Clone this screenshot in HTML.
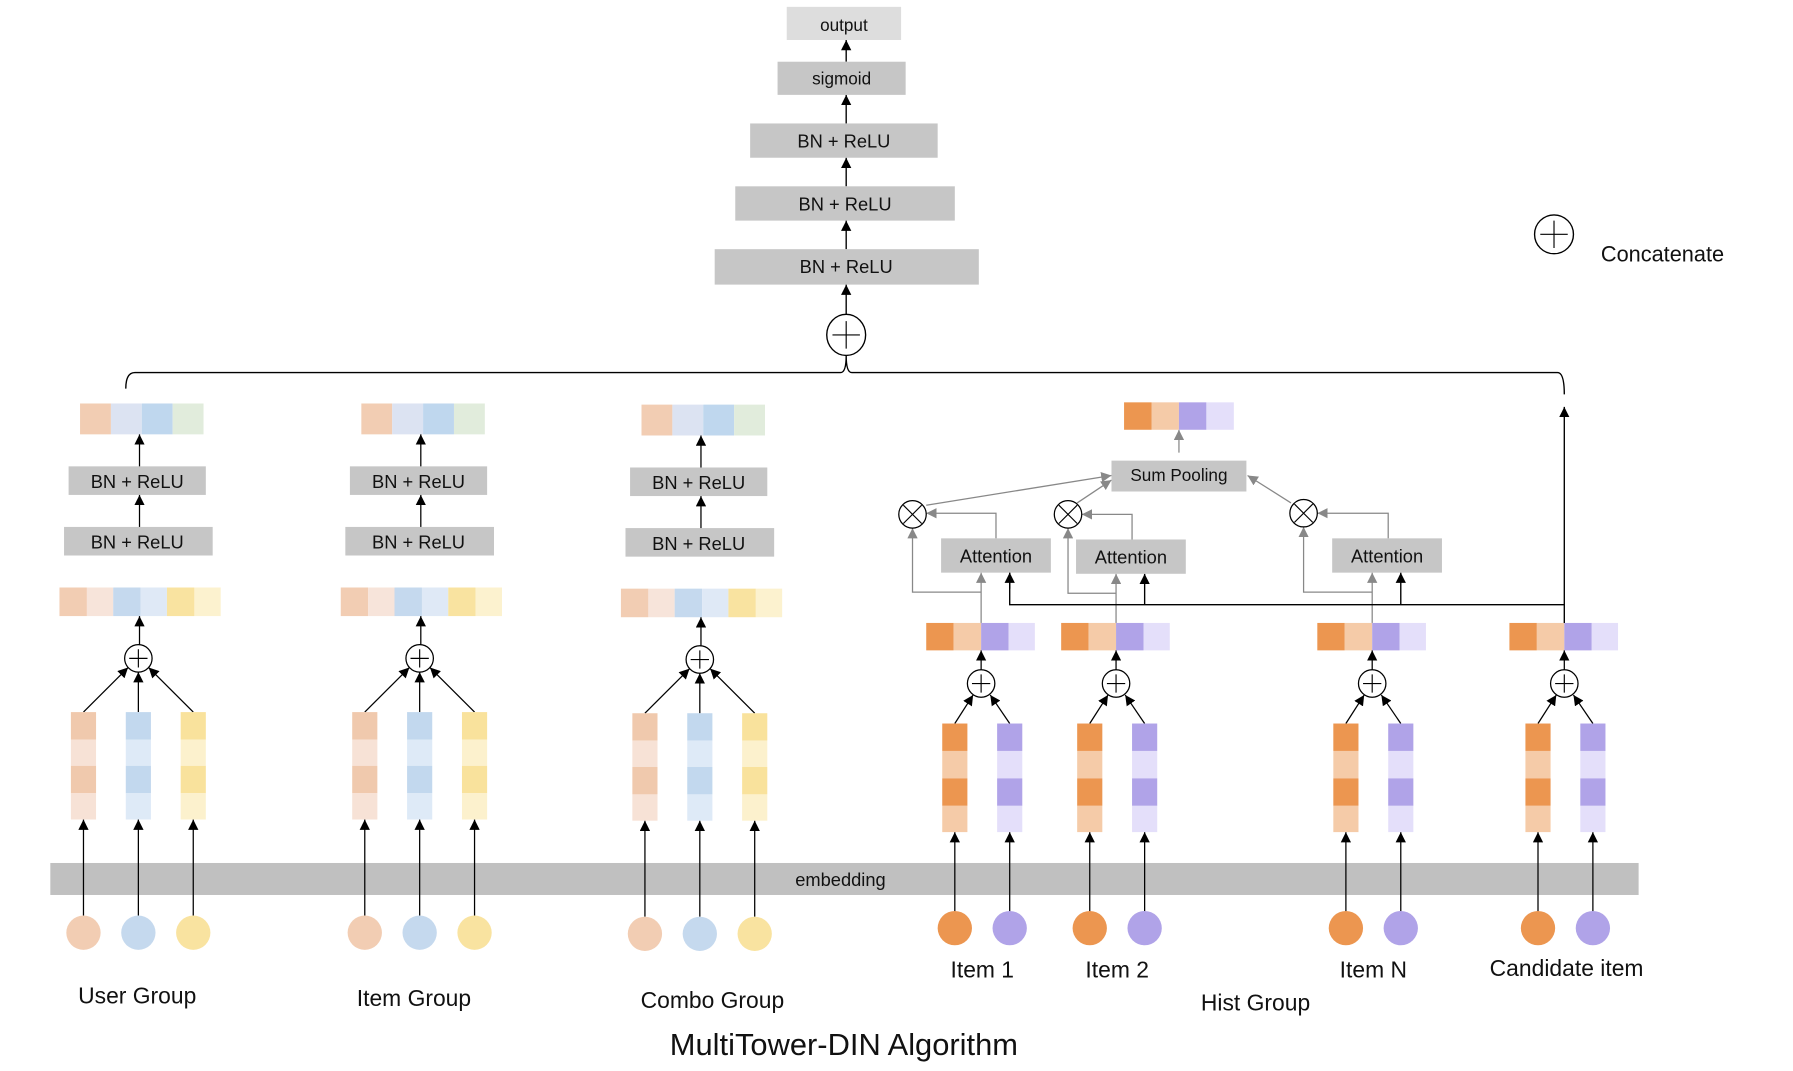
<!DOCTYPE html>
<html><head><meta charset="utf-8"><style>html,body{margin:0;padding:0;background:#fff}svg{display:block}text{font-family:"Liberation Sans",sans-serif;fill:#111}</style></head><body>
<svg width="1793" height="1071" viewBox="0 0 1568 937" preserveAspectRatio="none" xmlns="http://www.w3.org/2000/svg">
<defs>
<marker id="a" viewBox="0 0 10 10" refX="10" refY="5" markerWidth="9" markerHeight="9" markerUnits="userSpaceOnUse" orient="auto"><path d="M0,0L10,5L0,10z" fill="#000"/></marker>
<marker id="g" viewBox="0 0 10 10" refX="10" refY="5" markerWidth="9" markerHeight="9" markerUnits="userSpaceOnUse" orient="auto"><path d="M0,0L10,5L0,10z" fill="#888"/></marker>
</defs>
<g stroke="#000" stroke-width="1.2" fill="none">
<line x1="740" y1="54" x2="740" y2="35" marker-end="url(#a)"/>
<line x1="740" y1="108" x2="740" y2="83" marker-end="url(#a)"/>
<line x1="740" y1="163" x2="740" y2="138" marker-end="url(#a)"/>
<line x1="740" y1="218" x2="740" y2="193" marker-end="url(#a)"/>
<line x1="740" y1="276" x2="740" y2="249" marker-end="url(#a)"/>
<path d="M110,340 Q110,326 118,326 L735,326 Q740,326 740,311 Q740,326 745,326 L1362,326 Q1368,326 1368,345"/>
</g>
<rect x="688" y="6" width="100" height="29" fill="#ddd"/><text x="738" y="27" font-size="15" text-anchor="middle">output</text>
<rect x="680" y="54" width="112" height="29" fill="#c6c6c6"/><text x="736" y="74" font-size="15" text-anchor="middle">sigmoid</text>
<rect x="656" y="108" width="164" height="30" fill="#c6c6c6"/><text x="738" y="129" font-size="16" text-anchor="middle">BN + ReLU</text>
<rect x="643" y="163" width="192" height="30" fill="#c6c6c6"/><text x="739" y="184" font-size="16" text-anchor="middle">BN + ReLU</text>
<rect x="625" y="218" width="231" height="31" fill="#c6c6c6"/><text x="740" y="239" font-size="16" text-anchor="middle">BN + ReLU</text>
<ellipse cx="740" cy="293" rx="17" ry="18" fill="#fff" stroke="#000" stroke-width="1.2"/><path d="M728,293H752M740,281V305" stroke="#000" stroke-width="1"/>
<ellipse cx="1359" cy="205" rx="17" ry="17" fill="#fff" stroke="#000" stroke-width="1.2"/><path d="M1347,205H1371M1359,193V217" stroke="#000" stroke-width="1"/>
<text x="1400" y="229" font-size="19">Concatenate</text>
<rect x="44" y="755" width="1389" height="28" fill="#c0c0c0"/><text x="735" y="775" font-size="16" text-anchor="middle">embedding</text>

<g id="tw">
<rect x="70" y="353" width="27" height="27" fill="#f2cdb3"/><rect x="97" y="353" width="27" height="27" fill="#dce3f2"/><rect x="124" y="353" width="27" height="27" fill="#bfd7ee"/><rect x="151" y="353" width="27" height="27" fill="#e1ecdc"/>
<rect x="60" y="408" width="120" height="25" fill="#c6c6c6"/><text x="120" y="427" font-size="16" text-anchor="middle">BN + ReLU</text>
<rect x="56" y="461" width="130" height="25" fill="#c6c6c6"/><text x="120" y="480" font-size="16" text-anchor="middle">BN + ReLU</text>
<rect x="52" y="514" width="24" height="25" fill="#f2cdb3"/><rect x="76" y="514" width="23" height="25" fill="#f7e4da"/><rect x="99" y="514" width="24" height="25" fill="#c5d9ee"/><rect x="123" y="514" width="23" height="25" fill="#dfe9f6"/><rect x="146" y="514" width="24" height="25" fill="#f9e3a0"/><rect x="170" y="514" width="23" height="25" fill="#fcf2cf"/>
<g stroke="#000" stroke-width="1.1">
<line x1="122" y1="408" x2="122" y2="380" marker-end="url(#a)"/>
<line x1="122" y1="461" x2="122" y2="433" marker-end="url(#a)"/>
<line x1="122" y1="564" x2="122" y2="539" marker-end="url(#a)"/>
<line x1="73" y1="623" x2="112" y2="584" marker-end="url(#a)"/>
<line x1="121" y1="623" x2="121" y2="588" marker-end="url(#a)"/>
<line x1="169" y1="623" x2="130" y2="584" marker-end="url(#a)"/>
<line x1="73" y1="801" x2="73" y2="717" marker-end="url(#a)"/>
<line x1="121" y1="801" x2="121" y2="717" marker-end="url(#a)"/>
<line x1="169" y1="801" x2="169" y2="717" marker-end="url(#a)"/>
</g>
<ellipse cx="121" cy="576" rx="12" ry="12" fill="#fff" stroke="#000" stroke-width="1.1"/><path d="M113,576H129M121,568V584" stroke="#000" stroke-width="1"/>
<rect x="62" y="623" width="22" height="24" fill="#f0c9ad"/><rect x="62" y="647" width="22" height="23" fill="#f7e2d6"/><rect x="62" y="670" width="22" height="24" fill="#f0c9ad"/><rect x="62" y="694" width="22" height="23" fill="#f7e2d6"/>
<rect x="110" y="623" width="22" height="24" fill="#c2d8ee"/><rect x="110" y="647" width="22" height="23" fill="#deeaf7"/><rect x="110" y="670" width="22" height="24" fill="#c2d8ee"/><rect x="110" y="694" width="22" height="23" fill="#deeaf7"/>
<rect x="158" y="623" width="22" height="24" fill="#f9e29c"/><rect x="158" y="647" width="22" height="23" fill="#fcf1cd"/><rect x="158" y="670" width="22" height="24" fill="#f9e29c"/><rect x="158" y="694" width="22" height="23" fill="#fcf1cd"/>
<circle cx="73" cy="816" r="15" fill="#f2cdb3"/><circle cx="121" cy="816" r="15" fill="#c5d9ee"/><circle cx="169" cy="816" r="15" fill="#f9e3a0"/>
</g>
<use href="#tw" x="246" y="0"/>
<use href="#tw" x="491" y="1"/>
<text x="120" y="878" font-size="20" text-anchor="middle">User Group</text>
<text x="362" y="880" font-size="20" text-anchor="middle">Item Group</text>
<text x="623" y="882" font-size="20" text-anchor="middle">Combo Group</text>

<g id="hi">
<rect x="810" y="545" width="24" height="24" fill="#ec9650"/><rect x="834" y="545" width="24" height="24" fill="#f5cba8"/><rect x="858" y="545" width="24" height="24" fill="#b0a3e8"/><rect x="882" y="545" width="23" height="24" fill="#e4dffa"/>
<g stroke="#000" stroke-width="1.1">
<line x1="858" y1="586" x2="858" y2="569" marker-end="url(#a)"/>
<line x1="835" y1="633" x2="851" y2="608" marker-end="url(#a)"/>
<line x1="883" y1="633" x2="866" y2="608" marker-end="url(#a)"/>
<line x1="835" y1="798" x2="835" y2="728" marker-end="url(#a)"/>
<line x1="883" y1="798" x2="883" y2="728" marker-end="url(#a)"/>
</g>
<ellipse cx="858" cy="598" rx="12" ry="12" fill="#fff" stroke="#000" stroke-width="1.1"/><path d="M850,598H866M858,590V606" stroke="#000" stroke-width="1"/>
<rect x="824" y="633" width="22" height="24" fill="#ec9650"/><rect x="824" y="657" width="22" height="24" fill="#f5cba8"/><rect x="824" y="681" width="22" height="24" fill="#ec9650"/><rect x="824" y="705" width="22" height="23" fill="#f5cba8"/>
<rect x="872" y="633" width="22" height="24" fill="#b0a3e8"/><rect x="872" y="657" width="22" height="24" fill="#e4dffa"/><rect x="872" y="681" width="22" height="24" fill="#b0a3e8"/><rect x="872" y="705" width="22" height="23" fill="#e4dffa"/>
<circle cx="835" cy="812" r="15" fill="#ec9650"/><circle cx="883" cy="812" r="15" fill="#b0a3e8"/>
</g>
<use href="#hi" x="118" y="0"/>
<use href="#hi" x="342" y="0"/>
<use href="#hi" x="510" y="0"/>
<text x="859" y="855" font-size="20" text-anchor="middle">Item 1</text>
<text x="977" y="855" font-size="20" text-anchor="middle">Item 2</text>
<text x="1201" y="855" font-size="20" text-anchor="middle">Item N</text>
<text x="1370" y="854" font-size="20" text-anchor="middle">Candidate item</text>
<text x="1098" y="884" font-size="20" text-anchor="middle">Hist Group</text>

<g stroke="#888" stroke-width="1.1" fill="none">
<line x1="858" y1="545" x2="858" y2="501" marker-end="url(#g)"/>
<polyline points="858,518 798,518 798,462" marker-end="url(#g)"/>
<line x1="976" y1="545" x2="976" y2="502" marker-end="url(#g)"/>
<polyline points="976,519 934,519 934,462" marker-end="url(#g)"/>
<line x1="1200" y1="545" x2="1200" y2="501" marker-end="url(#g)"/>
<polyline points="1200,518 1140,518 1140,461" marker-end="url(#g)"/>
<polyline points="871,471 871,449 810,449" marker-end="url(#g)"/>
<polyline points="990,472 990,450 946,450" marker-end="url(#g)"/>
<polyline points="1214,471 1214,449 1152,449" marker-end="url(#g)"/>
<line x1="810" y1="442" x2="972" y2="416" marker-end="url(#g)"/>
<line x1="942" y1="440" x2="972" y2="420" marker-end="url(#g)"/>
<line x1="1129" y1="440" x2="1091" y2="416" marker-end="url(#g)"/>
<line x1="1031" y1="396" x2="1031" y2="376" marker-end="url(#g)"/>
</g>
<g stroke="#000" stroke-width="1.2" fill="none">
<polyline points="883,501 883,529 1368,529"/>
<line x1="883" y1="515" x2="883" y2="501" marker-end="url(#a)"/>
<line x1="1001" y1="529" x2="1001" y2="502" marker-end="url(#a)"/>
<line x1="1225" y1="529" x2="1225" y2="501" marker-end="url(#a)"/>
<line x1="1368" y1="545" x2="1368" y2="356" marker-end="url(#a)"/>
</g>
<rect x="823" y="471" width="96" height="30" fill="#c6c6c6"/><text x="871" y="492" font-size="16" text-anchor="middle">Attention</text>
<rect x="941" y="472" width="96" height="30" fill="#c6c6c6"/><text x="989" y="493" font-size="16" text-anchor="middle">Attention</text>
<rect x="1165" y="471" width="96" height="30" fill="#c6c6c6"/><text x="1213" y="492" font-size="16" text-anchor="middle">Attention</text>
<g fill="#fff" stroke="#000" stroke-width="1.1">
<circle cx="798" cy="450" r="12"/><circle cx="934" cy="450" r="12"/><circle cx="1140" cy="449" r="12"/>
</g>
<path d="M790,442L806,458M806,442L790,458M926,442L942,458M942,442L926,458M1132,441L1148,457M1148,441L1132,457" stroke="#000" stroke-width="1"/>
<rect x="972" y="403" width="118" height="27" fill="#c6c6c6"/><text x="1031" y="421" font-size="15" text-anchor="middle">Sum Pooling</text>
<rect x="983" y="352" width="24" height="24" fill="#ec9650"/><rect x="1007" y="352" width="24" height="24" fill="#f5cba8"/><rect x="1031" y="352" width="24" height="24" fill="#b0a3e8"/><rect x="1055" y="352" width="24" height="24" fill="#e4dffa"/>

<text x="738" y="923" font-size="27" text-anchor="middle">MultiTower-DIN Algorithm</text>
</svg>
</body></html>
